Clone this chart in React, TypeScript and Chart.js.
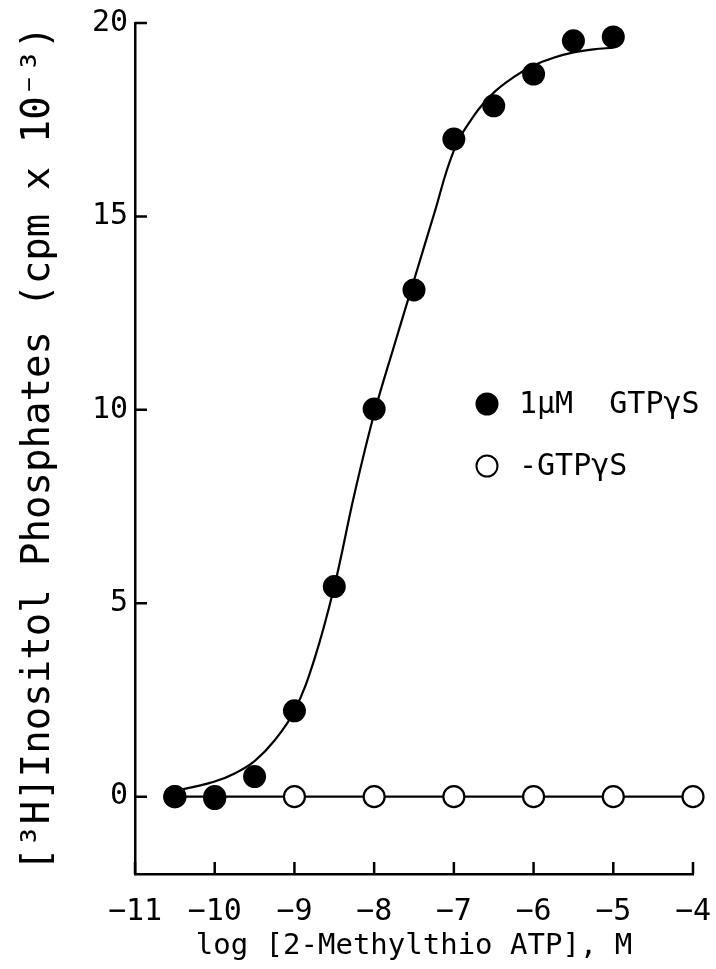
import React, { useEffect, useRef } from "react";
import { Chart, registerables } from "chart.js";

Chart.register(...registerables);

// ---- data ----
const filledX = [-10.5, -10, -9.5, -9, -8.5, -8, -7.5, -7, -6.5, -6, -5.5, -5];
const filledY = [0, -0.05, 0.52, 2.22, 5.43, 10.02, 13.1, 17.0, 17.86, 18.68, 19.54, 19.64];

const openX = [-10.5, -10, -9, -8, -7, -6, -5, -4];
const openY = [0, 0, 0, 0, 0, 0, 0, 0];

const fitX = [-10.5, -10.25, -10, -9.75, -9.5, -9.25, -9, -8.75, -8.5, -8.25, -8, -7.75, -7.5, -7.25, -7, -6.75, -6.5, -6.25, -6, -5.75, -5.5, -5.25, -5];
const fitY = [0.15, 0.26, 0.39, 0.6, 0.92, 1.45, 2.22, 3.55, 5.43, 7.8, 9.9, 11.65, 13.35, 15.05, 16.7, 17.6, 18.2, 18.6, 18.9, 19.1, 19.24, 19.32, 19.36];

const xTicks = [-11, -10, -9, -8, -7, -6, -5, -4];
const xTickLabels = ["\u221211", "\u221210", "\u22129", "\u22128", "\u22127", "\u22126", "\u22125", "\u22124"];
const yTicks = [0, 5, 10, 15, 20];
const yTickLabels = ["0", "5", "10", "15", "20"];

const seriesLabels = ["1\u03bcM  GTP\u03b3S", "-GTP\u03b3S"];
const xTitle = "log [2-Methylthio ATP], M";
const yTitle = "[\u00b3H]Inositol Phosphates (cpm x 10\u207b\u00b3)";

const FONT = '"DejaVu Sans Mono", monospace';

const toPts = (xs: number[], ys: number[]) => xs.map((x, i) => ({ x, y: ys[i] }));

const inwardTicks = {
  id: "inwardTicks",
  afterDraw(chart: any) {
    const { ctx, chartArea, scales } = chart;
    ctx.save();
    ctx.strokeStyle = "#000";
    ctx.lineWidth = 2.5;
    ctx.beginPath();
    xTicks.forEach((v) => {
      const px = scales.x.getPixelForValue(v);
      ctx.moveTo(px, chartArea.bottom);
      ctx.lineTo(px, chartArea.bottom - 12);
    });
    yTicks.forEach((v) => {
      const py = scales.y.getPixelForValue(v);
      ctx.moveTo(chartArea.left, py);
      ctx.lineTo(chartArea.left + 12, py);
    });
    ctx.stroke();
    ctx.restore();
  },
};

const insideLegend = {
  id: "insideLegend",
  afterDraw(chart: any) {
    const { ctx, chartArea } = chart;
    const mx = chartArea.left + 352;
    const rows = [chartArea.top + 381, chartArea.top + 443];
    const dsIdx = [0, 2];
    ctx.save();
    rows.forEach((ry, i) => {
      const ds = chart.data.datasets[dsIdx[i]];
      ctx.beginPath();
      ctx.arc(mx, ry, 10.5, 0, Math.PI * 2);
      ctx.fillStyle = ds.pointBackgroundColor;
      ctx.fill();
      ctx.lineWidth = 2;
      ctx.strokeStyle = "#000";
      ctx.stroke();
      ctx.fillStyle = "#000";
      ctx.font = `30px ${FONT}`;
      ctx.textBaseline = "middle";
      ctx.textAlign = "left";
      ctx.fillText(seriesLabels[i], mx + 32, ry + 1);
    });
    ctx.restore();
  },
};

export default function App() {
  const ref = useRef<HTMLCanvasElement | null>(null);

  useEffect(() => {
    document.body.style.margin = "0";
    const canvas = ref.current!;
    const chart = new Chart(canvas, {
      type: "scatter",
      data: {
        datasets: [
          {
            label: seriesLabels[0],
            data: toPts(filledX, filledY),
            showLine: false,
            pointRadius: 11.5,
            pointBackgroundColor: "#000",
            pointBorderColor: "#000",
            pointBorderWidth: 0,
            clip: false,
          } as any,
          {
            label: "fit",
            data: toPts(fitX, fitY),
            showLine: true,
            pointRadius: 0,
            borderColor: "#000",
            borderWidth: 2.2,
            tension: 0.4,
            clip: false,
          } as any,
          {
            label: seriesLabels[1],
            data: toPts(openX, openY),
            showLine: true,
            pointRadius: 10.5,
            pointBackgroundColor: "#fff",
            pointBorderColor: "#000",
            pointBorderWidth: 2.2,
            borderColor: "#000",
            borderWidth: 2.2,
            clip: false,
          } as any,
        ],
      },
      options: {
        animation: false,
        responsive: false,
        maintainAspectRatio: false,
        layout: { padding: { top: 23, right: 23, left: 0, bottom: 0 } },
        plugins: {
          legend: { display: false },
          tooltip: { enabled: false },
        },
        scales: {
          x: {
            type: "linear",
            min: -11,
            max: -4,
            grid: { display: false, drawTicks: false },
            border: { display: true, color: "#000", width: 2.5 },
            afterBuildTicks: (s: any) => {
              s.ticks = xTicks.map((v) => ({ value: v }));
            },
            afterFit: (s: any) => {
              s.height = 95;
              s.paddingLeft = 0;
              s.paddingRight = 0;
            },
            ticks: {
              color: "#000",
              padding: 20,
              maxRotation: 0,
              autoSkip: false,
              font: { family: FONT, size: 30 },
              callback: (_v: any, i: number) => xTickLabels[i],
            },
            title: {
              display: true,
              text: xTitle,
              color: "#000",
              font: { family: FONT, size: 29 },
              padding: { top: 0, bottom: 5 },
            },
          },
          y: {
            type: "linear",
            min: -2,
            max: 20,
            grid: { display: false, drawTicks: false },
            border: { display: true, color: "#000", width: 2.5 },
            afterBuildTicks: (s: any) => {
              s.ticks = yTicks.map((v) => ({ value: v }));
            },
            afterFit: (s: any) => {
              s.width = 135;
              s.paddingTop = 0;
              s.paddingBottom = 0;
            },
            ticks: {
              color: "#000",
              padding: 7,
              autoSkip: false,
              font: { family: FONT, size: 30 },
              callback: (_v: any, i: number) => yTickLabels[i],
            },
            title: {
              display: true,
              text: yTitle,
              color: "#000",
              font: { family: FONT, size: 39 },
              padding: { top: 15, bottom: 0 },
            },
          },
        },
      } as any,
      plugins: [inwardTicks, insideLegend],
    });
    return () => chart.destroy();
  }, []);

  return (
    <div style={{ width: 716, height: 969, background: "#fff" }}>
      <canvas ref={ref} width={716} height={969} style={{ display: "block" }} />
    </div>
  );
}
